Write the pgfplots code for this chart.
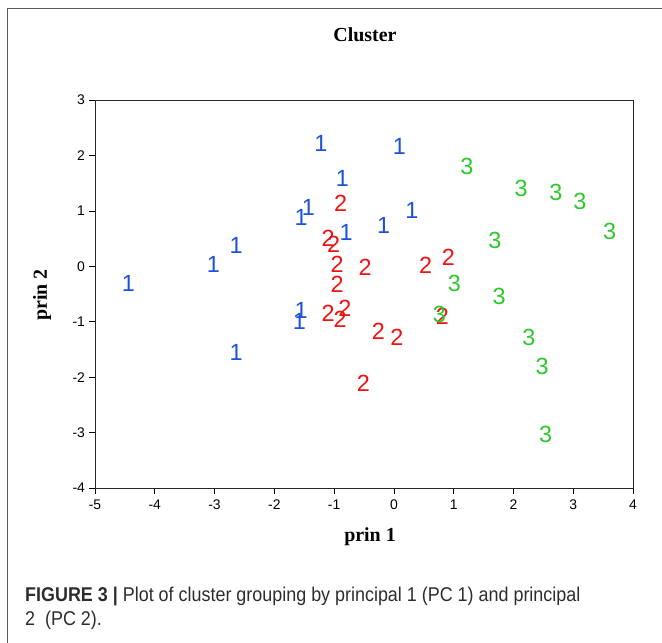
\documentclass[border=0pt]{standalone}
\usepackage{pgfplots}
\pgfplotsset{compat=1.18}
\usepackage{fontspec}
\setmainfont{Liberation Serif}
\newfontfamily\arial{Liberation Sans}
\newfontfamily\capfont[FakeStretch=0.9]{Liberation Sans}
\definecolor{c1}{RGB}{28,82,218}
\definecolor{c2}{RGB}{240,18,18}
\definecolor{c3}{RGB}{45,200,45}
\definecolor{frame}{RGB}{90,90,90}
\definecolor{captxt}{RGB}{45,45,45}
\pgfplotstableread{
x y
-4.44 -0.31
-3.02 0.04
-2.64 0.38
-2.64 -1.56
-1.22 2.21
0.09 2.17
-0.86 1.59
-1.43 1.07
-1.55 0.88
-0.80 0.61
-0.17 0.74
0.30 1.00
-1.55 -0.79
-1.58 -1.00
}\clusterA
\pgfplotstableread{
x y
-0.89 1.14
-1.10 0.50
-1.01 0.40
-0.95 0.04
-0.95 -0.33
-1.10 -0.84
-0.82 -0.76
-0.90 -0.95
-0.48 -0.01
0.53 0.02
0.91 0.17
-0.26 -1.18
0.05 -1.28
-0.51 -2.11
0.81 -0.90
}\clusterB
\pgfplotstableread{
x y
0.76 -0.86
1.22 1.81
2.13 1.41
2.71 1.33
3.11 1.17
3.61 0.62
1.69 0.47
1.01 -0.31
1.76 -0.55
2.26 -1.28
2.48 -1.81
2.54 -3.04
}\clusterC
\begin{document}
\begin{tikzpicture}[x=1bp,y=1bp]
\path[use as bounding box] (-95,-155) rectangle (567,488);
\draw[frame, line width=1.4bp] (-87.7,-160) -- (-87.7,479.7) -- (570,479.7);
\begin{axis}[
  at={(0,0)}, anchor=south west,
  scale only axis, width=538bp, height=388bp,
  xmin=-5, xmax=4, ymin=-4, ymax=3,
  xtick={-5,-4,...,4}, ytick={-4,-3,...,3},
  tick align=outside, xtick pos=bottom, ytick pos=left,
  major tick length=5.5bp,
  axis line style={black!85, line width=0.8bp},
  tick style={black, line width=0.7bp},
  ticklabel style={font=\arial\fontsize{14}{14}\selectfont},
  xticklabel style={yshift=-3bp},
  yticklabel style={xshift=-1bp},
  /pgf/number format/assume math mode=true,
  clip=false,
  every node near coord/.append style={font=\arial\fontsize{23.5}{23.5}\selectfont, anchor=center, inner sep=0pt},
  nodes near coords align=center,
]
\addplot[draw=none, mark=none, nodes near coords={1}, every node near coord/.append style={text=c1}] table {\clusterA};
\addplot[draw=none, mark=none, nodes near coords={2}, every node near coord/.append style={text=c2}] table {\clusterB};
\addplot[draw=none, mark=none, nodes near coords={3}, every node near coord/.append style={text=c3}] table {\clusterC};
\end{axis}
\node[font=\bfseries\fontsize{20}{20}\selectfont] at (270,453) {Cluster};
\node[font=\bfseries\fontsize{20}{20}\selectfont] at (275,-49) {prin 1};
\node[font=\bfseries\fontsize{20}{20}\selectfont, rotate=90] at (-53,193) {prin 2};
\node[anchor=west, inner sep=0pt, text=captxt, font=\capfont\fontsize{20}{20}\selectfont] at (-70,-108) {{\bfseries FIGURE 3 |} Plot of cluster grouping by principal 1 (PC 1) and principal};
\node[anchor=west, inner sep=0pt, text=captxt, font=\capfont\fontsize{20}{20}\selectfont] at (-70,-132) {2\ \ (PC 2).};
\end{tikzpicture}
\end{document}
